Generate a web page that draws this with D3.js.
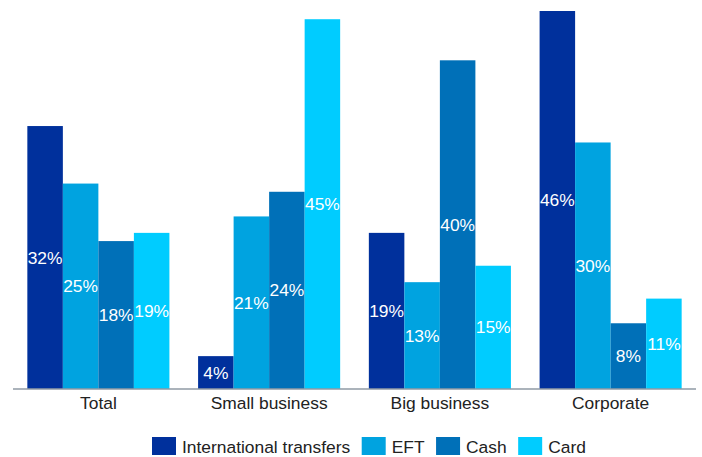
<!DOCTYPE html>
<html>
<head>
<meta charset="utf-8">
<script src="https://cdn.jsdelivr.net/npm/d3@7/dist/d3.min.js"></script>
<style>
  html, body { margin: 0; padding: 0; background: #fff; }
  svg { display: block; font-family: "Liberation Sans", Arial, sans-serif; }
</style>
</head>
<body>
<svg id="chart" width="702" height="457"></svg>
<script>
// Payment method shares by customer segment (%)
const categories = ["Total", "Small business", "Big business", "Corporate"];
const seriesNames = ["International transfers", "EFT", "Cash", "Card"];
const intlTransfers = [32, 4, 19, 46];
const eft = [25, 21, 13, 30];
const cash = [18, 24, 40, 8];
const card = [19, 45, 15, 11];
const seriesColors = ["#00309c", "#00a3e0", "#0070b8", "#00ccff"];

const seriesValues = [intlTransfers, eft, cash, card];

const svg = d3.select("#chart");
const plotLeft = 13, plotRight = 696, baseline = 389, plotTop = 11;
const fontSize = 17.4;

const x0 = d3.scaleBand()
  .domain(categories)
  .range([plotLeft, plotRight])
  .paddingInner(0.168)
  .paddingOuter(0.084);

const x1 = d3.scaleBand()
  .domain(seriesNames)
  .range([0, x0.bandwidth()]);

const y = d3.scaleLinear()
  .domain([0, d3.max(seriesValues.flat())])
  .range([baseline, plotTop]);

const color = d3.scaleOrdinal().domain(seriesNames).range(seriesColors);

const groups = svg.append("g")
  .selectAll("g")
  .data(categories)
  .join("g")
  .attr("transform", d => `translate(${x0(d)},0)`);

const cells = groups.selectAll("g.cell")
  .data((c, ci) => seriesNames.map((s, si) => ({ series: s, value: seriesValues[si][ci] })))
  .join("g")
  .attr("class", "cell");

cells.append("rect")
  .attr("x", d => x1(d.series))
  .attr("y", d => y(d.value))
  .attr("width", x1.bandwidth())
  .attr("height", d => baseline - y(d.value))
  .attr("fill", d => color(d.series));

cells.append("text")
  .attr("x", d => x1(d.series) + x1.bandwidth() / 2)
  .attr("y", d => (y(d.value) + baseline) / 2)
  .attr("text-anchor", "middle")
  .attr("dominant-baseline", "central")
  .attr("fill", "#fff")
  .attr("font-size", fontSize)
  .text(d => d.value + "%");

// Category axis
const xAxis = svg.append("g")
  .attr("transform", `translate(0,${baseline})`)
  .call(d3.axisBottom(x0).tickSize(0).tickPadding(8));
xAxis.select(".domain").attr("stroke", "#8f9aa5").attr("stroke-width", 1.5).attr("d", `M${plotLeft},0H${plotRight}`);
xAxis.selectAll("text")
  .attr("font-size", fontSize)
  .attr("font-family", "\"Liberation Sans\", Arial, sans-serif")
  .attr("fill", "#222");

// Legend
const legend = svg.append("g").attr("transform", "translate(152,437)");
let lx = 0;
seriesNames.forEach(name => {
  const item = legend.append("g").attr("transform", `translate(${lx},0)`);
  item.append("rect").attr("width", 24).attr("height", 18).attr("fill", color(name));
  const t = item.append("text")
    .attr("x", 30)
    .attr("y", 9.5)
    .attr("dominant-baseline", "central")
    .attr("font-size", fontSize)
    .attr("fill", "#222")
    .text(name);
  lx += 30 + t.node().getComputedTextLength() + 11.5;
});
</script>
</body>
</html>
